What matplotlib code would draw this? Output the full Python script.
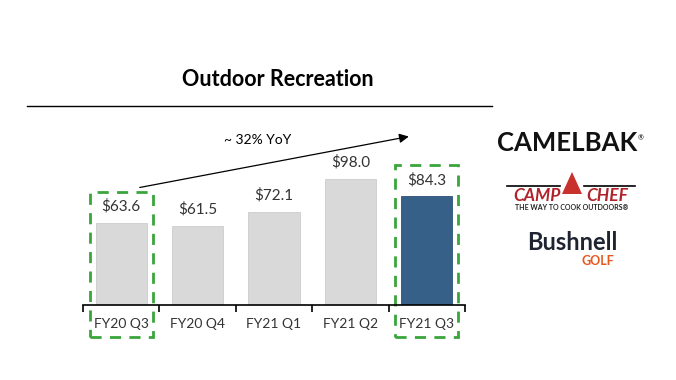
import matplotlib.pyplot as plt
from matplotlib.patches import Rectangle, Polygon
from matplotlib.lines import Line2D

# data
quarters = ["FY20 Q3", "FY20 Q4", "FY21 Q1", "FY21 Q2", "FY21 Q3"]
sales = [63.6, 61.5, 72.1, 98.0, 84.3]
bar_colors = ["#d9d9d9", "#d9d9d9", "#d9d9d9", "#d9d9d9", "#376089"]
growth_label = "~ 32% YoY"
title = "Outdoor Recreation"

W, H = 676, 380
fig = plt.figure(figsize=(W / 100, H / 100), dpi=100)
plt.rcParams['font.family'] = ['Lato', 'DejaVu Sans']

# axes placed in pixel terms: x from 83 to 465 px, baseline at 305 px
left, right, base, top = 83, 465, 305, 60
ax = fig.add_axes([left / W, 1 - base / H, (right - left) / W, (base - top) / H])
ax.set_xlim(-0.5, len(quarters) - 0.5)
ax.set_ylim(0, (base - top) / 1.29)

x = range(len(quarters))
ax.bar(x, sales, width=0.67, color=bar_colors, edgecolor=["#cccccc"] * 4 + ["#2d5078"], linewidth=0.6)
for i, v in enumerate(sales):
    ax.text(i, v + 7, f"${v:.1f}", ha="center", va="bottom", fontsize=11, color="#333333")

for s in ["top", "right", "left"]:
    ax.spines[s].set_visible(False)
ax.spines["bottom"].set_color("black")
ax.spines["bottom"].set_linewidth(1.2)
ax.set_yticks([])
ax.set_xticks([i - 0.5 for i in range(len(quarters) + 1)])
ax.set_xticklabels([])
ax.tick_params(axis="x", length=5, width=1.2, color="black", direction="out")
for i, q in enumerate(quarters):
    ax.text(i, -15, q, ha="center", va="center", fontsize=10, color="#333333")

# dashed highlight boxes
green = "#3aa53a"
for x0, x1, y1 in [(-0.408, 0.416, 87.6), (3.584, 4.408, 108.5)]:
    ax.add_patch(Rectangle((x0, -24.8), x1 - x0, y1 + 24.8, fill=False, edgecolor=green,
                           linestyle=(0, (4, 3)), linewidth=2, clip_on=False))

# growth arrow
ax.annotate("", xy=(3.80, 131), xytext=(0.207, 90.7),
            arrowprops=dict(arrowstyle="-|>", color="black", lw=0.9, mutation_scale=14),
            annotation_clip=False)
ax.text(1.78, 128, growth_label, ha="center", va="center", fontsize=10, color="black")

# title and rule
fig.text(278 / W, 1 - 80 / H, title, ha="center", va="center", fontsize=15.5, fontweight="bold")
fig.add_artist(Line2D([27 / W, 492 / W], [1 - 106 / H] * 2, color="black", lw=1))

# brand marks
fig.text(567 / W, 1 - 143 / H, "CAMELBAK", ha="center", va="center", fontsize=18.5,
         fontweight="bold", color="#111111")
fig.text(641 / W, 1 - 138 / H, "®", ha="center", va="center", fontsize=5)

# camp chef: rule with flame mark between the words
fig.add_artist(Line2D([507 / W, 560 / W], [1 - 186 / H] * 2, color="black", lw=1.2))
fig.add_artist(Line2D([584 / W, 635 / W], [1 - 186 / H] * 2, color="black", lw=1.2))
flame = [(562, 194), (572, 172), (582, 194)]
fig.add_artist(Polygon([(px / W, 1 - py / H) for px, py in flame], closed=True,
                       facecolor="#c8312c", edgecolor="none", transform=fig.transFigure))
fig.text(537 / W, 1 - 196 / H, "CAMP", ha="center", va="center", fontsize=12.5,
         fontweight="bold", style="italic", color="#b0232a")
fig.text(607 / W, 1 - 196 / H, "CHEF", ha="center", va="center", fontsize=12.5,
         fontweight="bold", style="italic", color="#b0232a")
fig.text(572 / W, 1 - 208 / H, "THE WAY TO COOK OUTDOORS®", ha="center", va="center",
         fontsize=5, fontweight="bold", color="#222222")

fig.text(572 / W, 1 - 242 / H, "Bushnell", ha="center", va="center", fontsize=17,
         fontweight="bold", color="#1e2530")
fig.text(598 / W, 1 - 261 / H, "GOLF", ha="center", va="center", fontsize=9,
         fontweight="bold", color="#e8571e")

fig.savefig("out.png", dpi=100)
